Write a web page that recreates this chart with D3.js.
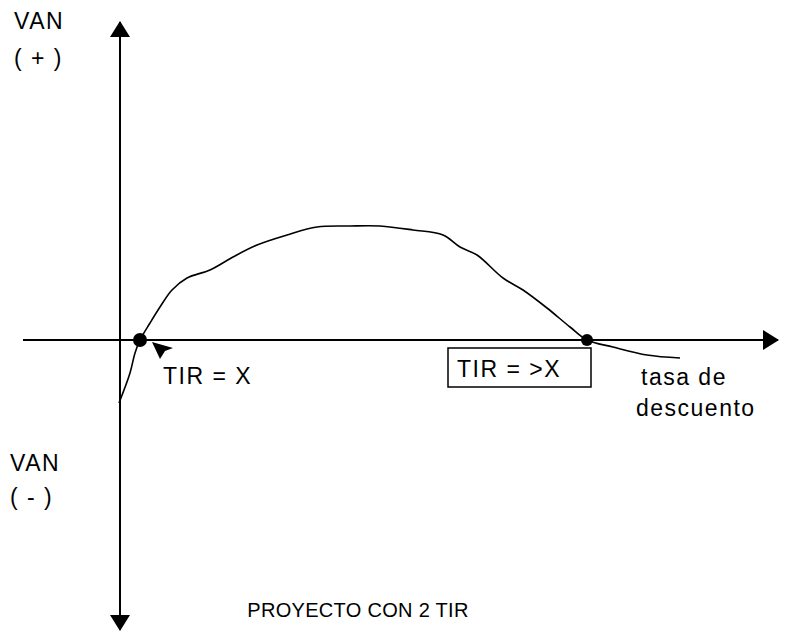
<!DOCTYPE html>
<html>
<head>
<meta charset="utf-8">
<script src="https://cdn.jsdelivr.net/npm/d3@7"></script>
<style>
  body { margin: 0; background: #fff; }
  svg text { font-family: "Liberation Sans", Arial, sans-serif; fill: #000; }
</style>
</head>
<body>
<div id="viz"></div>
<script>
const width = 788;
const height = 640;

// tasa de descuento (%) vs VAN
const tasa = [-0.1, 1.0, 1.5, 2.0, 3.0, 4.0, 5.2, 6.7, 9.0, 11.3, 13.7, 16.7, 19.7, 23.0, 26.0,
	29.3, 32.3, 34.0, 35.7, 38.3, 40.3, 42.7, 45.0, 46.7, 49.3, 52.7, 56.0];
const van = [-6.3, -3.3, -1.3, 0, 1.7, 3.3, 5.0, 6.2, 7.0, 8.3, 9.5, 10.5, 11.3, 11.4, 11.4,
	11.0, 10.5, 9.3, 8.5, 6.2, 5.0, 3.2, 1.3, 0, -0.7, -1.5, -1.8];
const tir = [2.0, 46.7];
const tirRadius = [7, 6];

const xScale = d3.scaleLinear().domain([-9.7, 65.8]).range([23, 778]);
const yScale = d3.scaleLinear().domain([-29, 31.8]).range([630, 22]);

const svg = d3.select('#viz')
	.append('svg')
	.attr('width', width)
	.attr('height', height);

svg.append('defs')
	.selectAll('marker')
	.data(['arrow'])
	.join('marker')
	.attr('id', d => d)
	.attr('viewBox', '0 0 16 20')
	.attr('refX', 15)
	.attr('refY', 10)
	.attr('markerWidth', 16)
	.attr('markerHeight', 20)
	.attr('markerUnits', 'userSpaceOnUse')
	.attr('orient', 'auto-start-reverse')
	.append('path')
	.attr('d', 'M0,0 L16,10 L0,20 Z')
	.attr('fill', '#000');

// axes
svg.append('line')
	.attr('x1', xScale(-9.7)).attr('x2', xScale(65.8))
	.attr('y1', yScale(0)).attr('y2', yScale(0))
	.attr('stroke', '#000').attr('stroke-width', 2)
	.attr('marker-end', 'url(#arrow)');

svg.append('line')
	.attr('x1', xScale(0)).attr('x2', xScale(0))
	.attr('y1', yScale(-29)).attr('y2', yScale(31.8))
	.attr('stroke', '#000').attr('stroke-width', 2)
	.attr('marker-start', 'url(#arrow)')
	.attr('marker-end', 'url(#arrow)');

// curve
const line = d3.line()
	.x((d, i) => xScale(tasa[i]))
	.y(d => yScale(d))
	.curve(d3.curveCatmullRom);

svg.append('path')
	.attr('d', line(van))
	.attr('fill', 'none')
	.attr('stroke', '#000')
	.attr('stroke-width', 1.6);

svg.selectAll('.tir')
	.data(tir)
	.join('circle')
	.attr('class', 'tir')
	.attr('cx', d => xScale(d))
	.attr('cy', yScale(0))
	.attr('r', (d, i) => tirRadius[i])
	.attr('fill', '#000');

// pointer at the first TIR
const px = xScale(tir[0]), py = yScale(0);
svg.append('path')
	.attr('d', `M${px + 12},${py + 2} L${px + 33},${py + 8} L${px + 25},${py + 11} L${px + 20},${py + 19} Z`)
	.attr('fill', '#000');

// box for second TIR
svg.append('rect')
	.attr('x', xScale(tir[1]) - 139)
	.attr('y', yScale(0) + 8)
	.attr('width', 143)
	.attr('height', 39)
	.attr('fill', 'none')
	.attr('stroke', '#000')
	.attr('stroke-width', 1.5);

const labels = [
	{t: 'VAN', x: 14, y: 29},
	{t: '( + )', x: 14, y: 66},
	{t: 'VAN', x: 10, y: 471},
	{t: '( - )', x: 10, y: 505},
	{t: 'TIR = X', x: 163, y: 384},
	{t: 'TIR = >X', x: 457, y: 377},
	{t: 'tasa de', x: 641, y: 385},
	{t: 'descuento', x: 636, y: 416}
];

svg.selectAll('.lbl')
	.data(labels)
	.join('text')
	.attr('class', 'lbl')
	.attr('x', d => d.x)
	.attr('y', d => d.y)
	.attr('font-size', 23)
	.attr('letter-spacing', 1.5)
	.text(d => d.t);

svg.append('text')
	.attr('x', 358)
	.attr('y', 617)
	.attr('text-anchor', 'middle')
	.attr('font-size', 20)
	.attr('letter-spacing', 0.3)
	.text('PROYECTO CON 2 TIR');
</script>
</body>
</html>
